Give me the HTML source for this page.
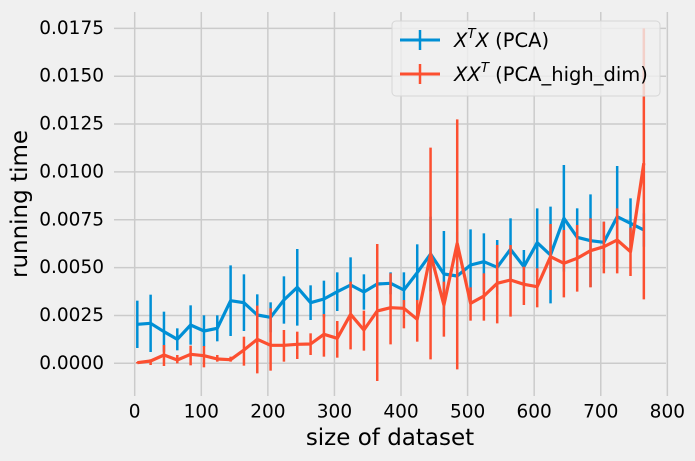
<!DOCTYPE html>
<html><head><meta charset="utf-8"><style>
html,body{margin:0;padding:0;background:#f0f0f0;}
svg{display:block;font-family:"DejaVu Sans","Liberation Sans",sans-serif;}
</style></head><body>
<svg id="s" width="695" height="461" viewBox="0 0 695 461" xmlns="http://www.w3.org/2000/svg">
<rect width="695" height="461" fill="#f0f0f0"/>
<g id="grid" stroke="#cbcbcb" stroke-width="1.5"></g>
<g id="ticks" font-size="18.5" fill="#000"></g>
<text x="20" y="204" font-size="23" text-anchor="middle" dominant-baseline="central" transform="rotate(-90 20 204)">running time</text>
<text x="390" y="438" font-size="23" text-anchor="middle" dominant-baseline="central">size of dataset</text>
<g id="data"></g>
<g>
<rect x="392" y="21" width="268" height="75" rx="4" fill="#f0f0f0" fill-opacity="0.8" stroke="#d6d6d6" stroke-width="1"/>
<line x1="400" y1="40" x2="440" y2="40" stroke="#008fd5" stroke-width="3"/>
<line x1="420" y1="30" x2="420" y2="50" stroke="#008fd5" stroke-width="2.5"/>
<line x1="400" y1="74" x2="440" y2="74" stroke="#fc4f30" stroke-width="3"/>
<line x1="420" y1="64" x2="420" y2="84" stroke="#fc4f30" stroke-width="2.5"/>
<text x="454" y="47" font-size="19.5"><tspan font-style="italic">X</tspan><tspan font-style="italic" font-size="13.5" dy="-9">T</tspan><tspan font-style="italic" dy="9">X</tspan> (PCA)</text>
<text x="454" y="81" font-size="19.5"><tspan font-style="italic">XX</tspan><tspan font-style="italic" font-size="13.5" dy="-9">T</tspan><tspan dy="9"> (PCA_high_dim)</tspan></text>
</g>
</svg>
<script>
var NS="http://www.w3.org/2000/svg";
function el(p,t,a,txt){var e=document.createElementNS(NS,t);for(var k in a)e.setAttribute(k,a[k]);if(txt!==undefined)e.textContent=txt;document.getElementById(p).appendChild(e);return e;}
function X(v){return 134.7+v*0.6658;}
function Y(v){return 363.3-v*19140;}
for(var i=0;i<=8;i++){var x=X(i*100);el('grid','line',{x1:x,y1:12,x2:x,y2:396});el('ticks','text',{x:x,y:412,'text-anchor':'middle','dominant-baseline':'central'},String(i*100));}
var yl=["0.0000","0.0025","0.0050","0.0075","0.0100","0.0125","0.0150","0.0175"];
for(var j=0;j<8;j++){var y=Y(j*0.0025);el('grid','line',{x1:114,y1:y,x2:666,y2:y});el('ticks','text',{x:104,y:y,'text-anchor':'end','dominant-baseline':'central'},yl[j]);}
var bY=[973,970,995,1018,975,993,985,902,908,945,952,900,862,908,897,875,855,876,852,850,870,818,762,822,828,795,785,802,748,800,728,765,655,712,722,727,650,670,690];
var bT=[902,884,935,985,916,946,946,796,823,883,907,829,747,856,842,817,772,823,787,817,817,733,650,693,695,688,700,720,655,750,625,620,495,625,583,665,498,595,640];
var rY=[1088,1083,1065,1080,1063,1067,1077,1079,1050,1018,1036,1036,1033,1032,1003,1015,943,990,933,923,925,958,762,915,730,910,888,850,840,853,860,770,790,775,752,740,720,755,490];
var rT=[1086,1078,1035,1065,1037,1038,1065,1070,1010,917,925,990,995,1000,942,963,845,932,732,820,900,900,443,845,358,862,820,735,735,800,805,672,690,675,655,665,625,683,85];
var rB=[1090,1095,1098,1090,1096,1102,1085,1085,1097,1120,1112,1085,1077,1065,1070,1073,1048,1052,1143,1033,985,1025,1078,1010,1108,962,962,970,950,915,922,870,892,875,862,820,820,828,898];
function px(i){return 137.3+13.33*i;}
function series(Ys,T,B,c){
 var pts=[];
 for(var i=0;i<Ys.length;i++){var y=Ys[i]/3,t=T[i]/3,b=B?B[i]/3:(2*y-t);
  el('data','line',{x1:px(i),y1:t,x2:px(i),y2:b,stroke:c,'stroke-width':2.5});
  pts.push(px(i).toFixed(1)+','+y.toFixed(1));}
 el('data','polyline',{points:pts.join(' '),fill:'none',stroke:c,'stroke-width':3.2,'stroke-linejoin':'round'});
}
series(bY,bT,null,'#008fd5');
series(rY,rT,rB,'#fc4f30');
</script>
</body></html>
